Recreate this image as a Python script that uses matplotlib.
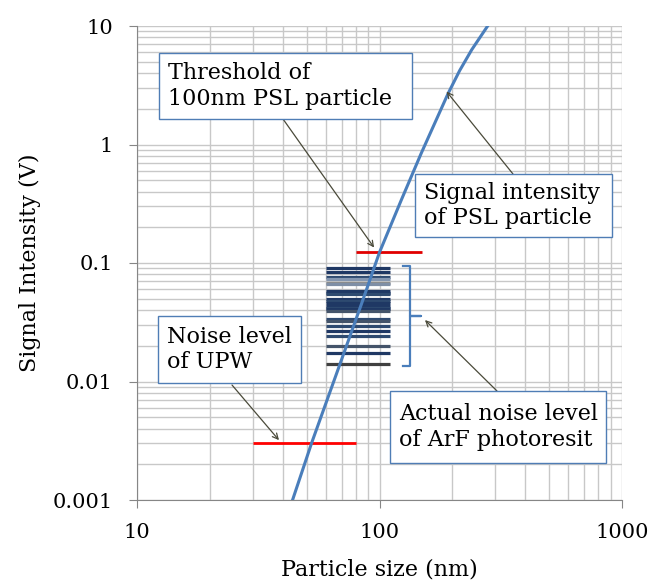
import numpy as np
import matplotlib.pyplot as plt
from matplotlib.patches import Rectangle
from matplotlib.ticker import LogLocator, FixedFormatter, FixedLocator, NullFormatter

# signal of PSL particles vs size
size_nm = [43.8, 52.5, 66.2, 84.0, 100.0, 123.0, 148.8, 191.9, 214.0, 240.0, 281.0]
signal_v = [0.001, 0.00303, 0.01135, 0.0443, 0.123, 0.34, 0.848, 2.70, 4.2, 6.3, 10.2]

# noise of ArF photoresist (many measurements)
noise_v = [0.0912, 0.0835, 0.0757, 0.0733, 0.0673, 0.066, 0.0584, 0.0561, 0.0544,
           0.0494, 0.0477, 0.0462, 0.0433, 0.0419, 0.0406, 0.0393, 0.0335, 0.0324,
           0.0294, 0.0267, 0.0242, 0.0200, 0.0175, 0.0140]
noise_col = ['#1f3864', '#1f3864', '#2e4a70', '#8496b0', '#8c8c8c', '#7f8fa6',
             '#1f3864', '#1f3864', '#2e4a70', '#1f3864', '#2e4a70', '#1f3864',
             '#1f3864', '#2e4a70', '#1f3864', '#44546a', '#2e4a70', '#44546a',
             '#2e4a70', '#1f3864', '#2e4a70', '#44546a', '#1f3864', '#404040']
noise_x = [60, 110]

upw_level = 0.003
upw_x = [30, 80]
thr_level = 0.125
thr_x = [80, 150]

W, H = 649, 586
plt.rcParams['font.family'] = 'DejaVu Serif'
fig = plt.figure(figsize=(W / 100, H / 100), dpi=100)
ax = fig.add_axes([137 / W, 1 - 500 / H, (622 - 137) / W, (500 - 26) / H])

ax.set_xscale('log')
ax.set_yscale('log')
ax.set_xlim(10, 1000)
ax.set_ylim(0.001, 10)

ax.hlines(noise_v, noise_x[0], noise_x[1], colors=noise_col, lw=2.3, zorder=3)
ax.hlines(upw_level, upw_x[0], upw_x[1], colors='#ff0000', lw=2, zorder=3)
ax.hlines(thr_level, thr_x[0], thr_x[1], colors='#e00000', lw=2, zorder=3)
ax.plot(size_nm, signal_v, color='#4a7ebb', lw=2.2, zorder=4)

# brace next to the noise bars
lo, hi = min(noise_v) * 0.97, max(noise_v) * 1.03
mid = np.sqrt(lo * hi)
bx, bl, bt = 134, 124.5, 148
ax.plot([bl, bx, bx, bt, bx, bx, bl], [hi, hi, mid, mid, mid, lo, lo],
        color='#4a7ebb', lw=1.6, zorder=3)

ax.xaxis.set_major_locator(FixedLocator([10, 100, 1000]))
ax.xaxis.set_major_formatter(FixedFormatter(['10', '100', '1000']))
ax.xaxis.set_minor_locator(LogLocator(base=10, subs=np.arange(2, 10)))
ax.xaxis.set_minor_formatter(NullFormatter())
ax.yaxis.set_major_locator(FixedLocator([0.001, 0.01, 0.1, 1, 10]))
ax.yaxis.set_major_formatter(FixedFormatter(['0.001', '0.01', '0.1', '1', '10']))
ax.yaxis.set_minor_locator(LogLocator(base=10, subs=np.arange(2, 10)))
ax.yaxis.set_minor_formatter(NullFormatter())

ax.grid(True, which='both', color='#c8c8c8', lw=1)
ax.set_axisbelow(True)
for s in ['top', 'right']:
    ax.spines[s].set_visible(False)
for s in ['left', 'bottom']:
    ax.spines[s].set_color('#868686')
ax.tick_params(which='major', length=5.5, color='#868686', labelsize=15)
ax.tick_params(which='minor', length=0)
ax.tick_params(axis='y', pad=12)
ax.tick_params(axis='x', pad=11)

ax.set_xlabel('Particle size (nm)', fontsize=16, labelpad=12)
ax.set_ylabel('Signal Intensity (V)', fontsize=16, labelpad=8)

# text boxes (pixel positions: left, top, right, bottom)
boxes = [
    ((159, 53, 412, 119), 'Threshold of\n100nm PSL particle'),
    ((415, 174, 612, 237), 'Signal intensity\nof PSL particle'),
    ((158, 316, 301, 383), 'Noise level\nof UPW'),
    ((390, 391, 606, 463), 'Actual noise level\nof ArF photoresit'),
]
for (l, t, r, b), txt in boxes:
    fig.patches.append(Rectangle((l / W, 1 - b / H), (r - l) / W, (b - t) / H,
                                 transform=fig.transFigure, facecolor='white',
                                 edgecolor='#4f7db5', lw=1, zorder=5))
    fig.text((l + 9) / W, 1 - (t + b) / 2 / H, txt, fontsize=16, ha='left',
             va='center', linespacing=1.2, zorder=6)

# arrows: start (pixels) -> target (data)
arrows = [((283, 119), (95, 0.135)),
          ((513, 174), (189, 2.8)),
          ((232, 385), (38.5, 0.0032)),
          ((497, 391), (154, 0.033))]
for (sx, sy), tgt in arrows:
    ax.annotate('', xy=tgt, xytext=(sx, H - sy), textcoords='figure pixels',
                arrowprops=dict(arrowstyle='->', color='#4a4a3a', lw=0.9,
                                shrinkA=0, shrinkB=0), zorder=5)

fig.savefig('out.png', dpi=100)
